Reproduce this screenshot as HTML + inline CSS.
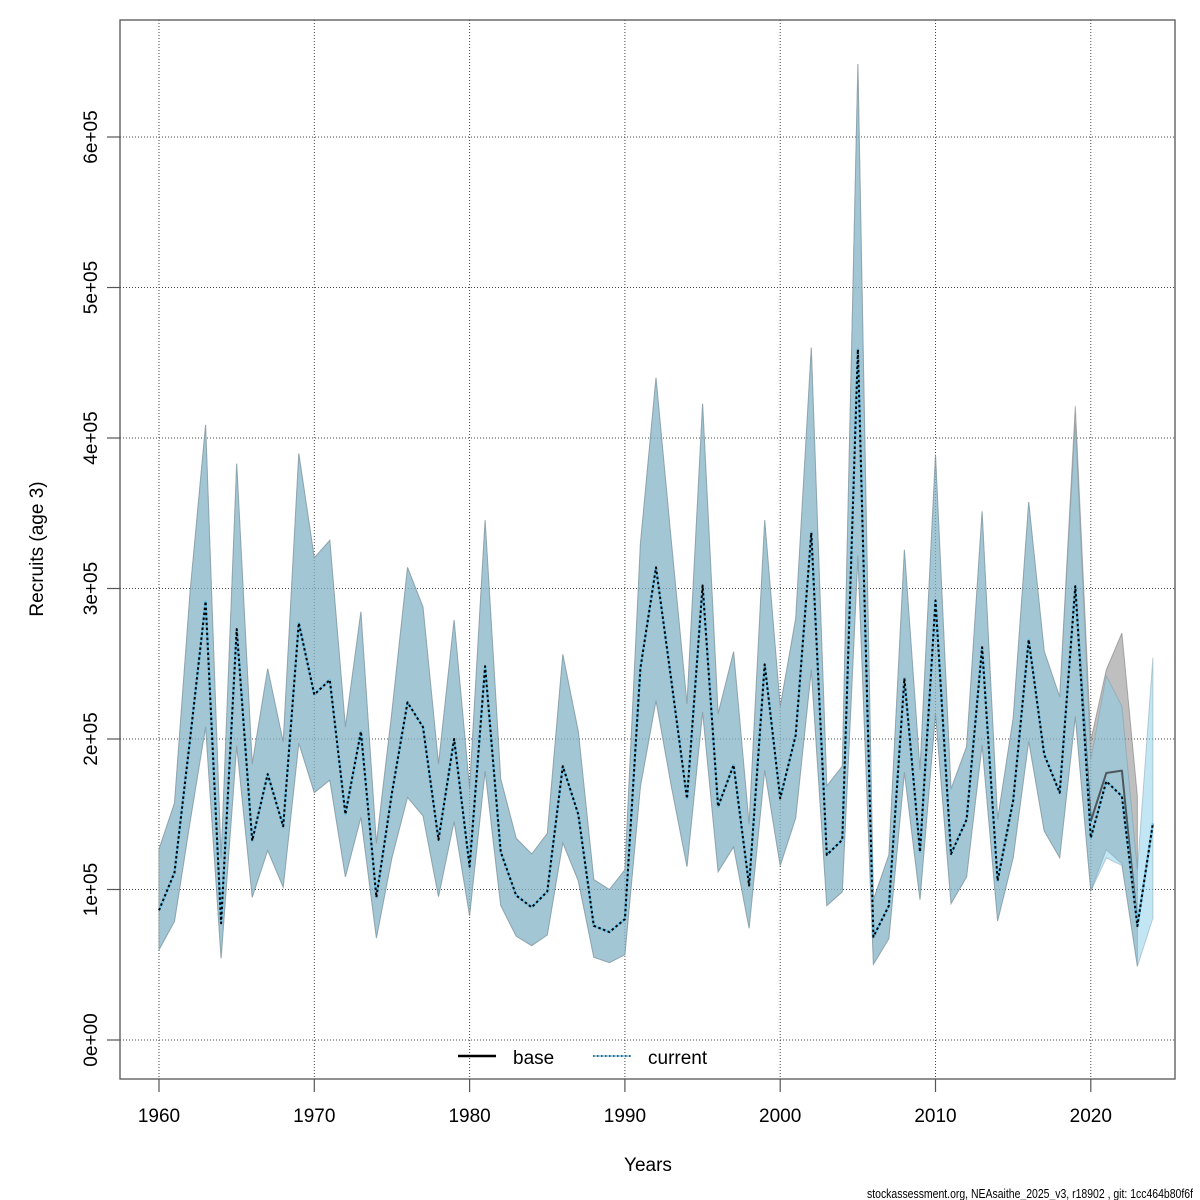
<!DOCTYPE html>
<html>
<head>
<meta charset="utf-8">
<style>
html,body{margin:0;padding:0;background:#fff;}
svg{display:block;}
text{font-family:"Liberation Sans",Arial,sans-serif;fill:#000;}
</style>
</head>
<body>
<svg width="1200" height="1200" viewBox="0 0 1200 1200" xmlns="http://www.w3.org/2000/svg">
<rect x="0" y="0" width="1200" height="1200" fill="#fff"/>
<!-- grid -->
<g stroke="#444" stroke-width="1" stroke-dasharray="1,2" fill="none">
<line x1="159" y1="20" x2="159" y2="1079"/>
<line x1="314.3" y1="20" x2="314.3" y2="1079"/>
<line x1="469.6" y1="20" x2="469.6" y2="1079"/>
<line x1="624.9" y1="20" x2="624.9" y2="1079"/>
<line x1="780.2" y1="20" x2="780.2" y2="1079"/>
<line x1="935.5" y1="20" x2="935.5" y2="1079"/>
<line x1="1090.8" y1="20" x2="1090.8" y2="1079"/>
<line x1="120" y1="1040" x2="1175" y2="1040"/>
<line x1="120" y1="889.5" x2="1175" y2="889.5"/>
<line x1="120" y1="739" x2="1175" y2="739"/>
<line x1="120" y1="588.5" x2="1175" y2="588.5"/>
<line x1="120" y1="438" x2="1175" y2="438"/>
<line x1="120" y1="287.5" x2="1175" y2="287.5"/>
<line x1="120" y1="137" x2="1175" y2="137"/>
</g>
<!-- base band -->
<polygon fill="rgba(127,127,127,0.5)" stroke="rgba(110,110,110,0.5)" stroke-width="1" points="159.0,849.2 174.5,803.0 190.1,591.5 205.6,424.8 221.1,858.5 236.7,463.6 252.2,764.1 267.7,668.7 283.2,742.0 298.8,453.5 314.3,557.8 329.8,540.3 345.4,727.1 360.9,611.8 376.4,843.6 391.9,711.9 407.5,567.4 423.0,607.0 438.5,764.1 454.1,620.1 469.6,788.2 485.1,520.2 500.7,778.9 516.2,838.2 531.7,854.0 547.3,833.4 562.8,654.4 578.3,731.5 593.8,879.6 609.4,889.5 624.9,869.8 640.4,543.8 656.0,377.8 671.5,543.3 687.0,703.8 702.6,403.7 718.1,713.7 733.6,651.7 749.1,824.3 764.7,520.2 780.2,706.6 795.7,618.6 811.3,347.7 826.8,786.0 842.3,766.2 857.9,64.0 873.4,899.7 888.9,854.9 904.4,549.8 920.0,769.9 935.5,454.6 951.0,789.0 966.6,746.8 982.1,511.4 997.6,819.5 1013.2,718.1 1028.7,502.0 1044.2,651.1 1059.7,697.0 1075.3,406.2 1090.8,740.5 1106.3,669.8 1121.9,633.0 1137.4,796.2 1137.4,966.3 1121.9,863.9 1106.3,849.6 1090.8,891.0 1075.3,716.4 1059.7,857.7 1044.2,831.0 1028.7,741.1 1013.2,857.7 997.6,921.0 982.1,744.9 966.6,876.9 951.0,903.6 935.5,713.4 920.0,899.7 904.4,772.3 888.9,938.6 873.4,964.3 857.9,555.7 842.3,891.9 826.8,905.6 811.3,669.8 795.7,817.9 780.2,865.7 764.7,770.2 749.1,928.2 733.6,846.9 718.1,871.7 702.6,711.9 687.0,866.6 671.5,787.2 656.0,700.6 640.4,786.7 624.9,954.7 609.4,962.6 593.8,957.2 578.3,880.8 562.8,842.8 547.3,935.0 531.7,945.6 516.2,936.2 500.7,905.3 485.1,771.1 469.6,915.7 454.1,821.5 438.5,896.6 423.0,815.8 407.5,797.4 391.9,857.9 376.4,938.0 360.9,817.3 345.4,876.9 329.8,780.1 314.3,792.6 298.8,743.1 283.2,887.2 267.7,850.4 252.2,897.3 236.7,745.8 221.1,958.3 205.6,727.0 190.1,821.8 174.5,921.3 159.0,949.7"/>
<!-- current band -->
<polygon fill="rgba(135,206,235,0.5)" stroke="rgba(120,150,165,0.45)" stroke-width="1" points="159.0,849.2 174.5,803.0 190.1,591.5 205.6,424.8 221.1,858.5 236.7,463.6 252.2,764.1 267.7,668.7 283.2,742.0 298.8,453.5 314.3,557.8 329.8,540.3 345.4,727.1 360.9,611.8 376.4,843.6 391.9,711.9 407.5,567.4 423.0,607.0 438.5,764.1 454.1,620.1 469.6,788.2 485.1,520.2 500.7,778.9 516.2,838.2 531.7,854.0 547.3,833.4 562.8,654.4 578.3,731.5 593.8,879.6 609.4,889.5 624.9,869.8 640.4,543.8 656.0,377.8 671.5,543.3 687.0,703.8 702.6,403.7 718.1,713.7 733.6,651.7 749.1,824.3 764.7,520.2 780.2,706.6 795.7,618.6 811.3,347.7 826.8,786.0 842.3,766.2 857.9,64.0 873.4,899.7 888.9,854.9 904.4,549.8 920.0,769.9 935.5,454.6 951.0,789.0 966.6,746.8 982.1,511.4 997.6,819.5 1013.2,718.1 1028.7,502.0 1044.2,651.1 1059.7,697.0 1075.3,422.9 1090.8,759.6 1106.3,675.8 1121.9,706.3 1137.4,869.9 1152.9,657.7 1152.9,918.1 1137.4,966.3 1121.9,865.4 1106.3,857.9 1090.8,891.0 1075.3,716.4 1059.7,857.7 1044.2,831.0 1028.7,741.1 1013.2,857.7 997.6,921.0 982.1,744.9 966.6,876.9 951.0,903.6 935.5,713.4 920.0,899.7 904.4,772.3 888.9,938.6 873.4,964.3 857.9,555.7 842.3,891.9 826.8,905.6 811.3,669.8 795.7,817.9 780.2,865.7 764.7,770.2 749.1,928.2 733.6,846.9 718.1,871.7 702.6,711.9 687.0,866.6 671.5,787.2 656.0,700.6 640.4,786.7 624.9,954.7 609.4,962.6 593.8,957.2 578.3,880.8 562.8,842.8 547.3,935.0 531.7,945.6 516.2,936.2 500.7,905.3 485.1,771.1 469.6,915.7 454.1,821.5 438.5,896.6 423.0,815.8 407.5,797.4 391.9,857.9 376.4,938.0 360.9,817.3 345.4,876.9 329.8,780.1 314.3,792.6 298.8,743.1 283.2,887.2 267.7,850.4 252.2,897.3 236.7,745.8 221.1,958.3 205.6,727.0 190.1,821.8 174.5,921.3 159.0,949.7"/>
<!-- base median -->
<polyline fill="none" stroke="rgba(40,40,40,0.7)" stroke-width="2" stroke-linejoin="round" points="159.0,910.3 174.5,872.5 190.1,739.0 205.6,601.4 221.1,923.2 236.7,629.1 252.2,840.7 267.7,774.1 283.2,826.3 298.8,623.0 314.3,694.6 329.8,679.9 345.4,814.2 360.9,731.5 376.4,897.3 391.9,793.2 407.5,702.4 423.0,727.1 438.5,839.8 454.1,739.0 469.6,866.6 485.1,666.3 500.7,851.9 516.2,895.5 531.7,907.3 547.3,891.5 562.8,766.2 578.3,814.4 593.8,925.8 609.4,932.1 624.9,919.1 640.4,668.3 656.0,567.4 671.5,681.8 687.0,798.6 702.6,585.5 718.1,806.6 733.6,765.0 749.1,885.6 764.7,664.4 780.2,798.4 795.7,735.2 811.3,532.8 826.8,854.9 842.3,839.8 857.9,349.4 873.4,936.8 888.9,905.6 904.4,678.3 920.0,851.9 935.5,600.5 951.0,854.0 966.6,819.5 982.1,647.3 997.6,880.8 1013.2,800.4 1028.7,639.7 1044.2,754.5 1059.7,792.7 1075.3,586.2 1090.8,821.2 1106.3,773.0 1121.9,770.6 1137.4,924.1"/>
<!-- current median: skyblue under black dots -->
<polyline fill="none" stroke="#6EC3E8" stroke-width="2.4" stroke-linejoin="round" points="159.0,910.3 174.5,872.5 190.1,739.0 205.6,601.4 221.1,923.2 236.7,629.1 252.2,840.7 267.7,774.1 283.2,826.3 298.8,623.0 314.3,694.6 329.8,679.9 345.4,814.2 360.9,731.5 376.4,897.3 391.9,793.2 407.5,702.4 423.0,727.1 438.5,839.8 454.1,739.0 469.6,866.6 485.1,666.3 500.7,851.9 516.2,895.5 531.7,907.3 547.3,891.5 562.8,766.2 578.3,814.4 593.8,925.8 609.4,932.1 624.9,919.1 640.4,668.3 656.0,567.4 671.5,681.8 687.0,798.6 702.6,585.5 718.1,806.6 733.6,765.0 749.1,885.6 764.7,664.4 780.2,798.4 795.7,735.2 811.3,532.8 826.8,854.9 842.3,839.8 857.9,349.4 873.4,936.8 888.9,905.6 904.4,678.3 920.0,851.9 935.5,600.5 951.0,854.0 966.6,819.5 982.1,647.3 997.6,880.8 1013.2,800.4 1028.7,639.7 1044.2,754.5 1059.7,792.7 1075.3,586.2 1090.8,837.9 1106.3,781.3 1121.9,796.2 1137.4,926.1 1152.9,823.3"/>
<polyline fill="none" stroke="#000" stroke-width="2" stroke-dasharray="2.5,2.5" stroke-linejoin="round" points="159.0,910.3 174.5,872.5 190.1,739.0 205.6,601.4 221.1,923.2 236.7,629.1 252.2,840.7 267.7,774.1 283.2,826.3 298.8,623.0 314.3,694.6 329.8,679.9 345.4,814.2 360.9,731.5 376.4,897.3 391.9,793.2 407.5,702.4 423.0,727.1 438.5,839.8 454.1,739.0 469.6,866.6 485.1,666.3 500.7,851.9 516.2,895.5 531.7,907.3 547.3,891.5 562.8,766.2 578.3,814.4 593.8,925.8 609.4,932.1 624.9,919.1 640.4,668.3 656.0,567.4 671.5,681.8 687.0,798.6 702.6,585.5 718.1,806.6 733.6,765.0 749.1,885.6 764.7,664.4 780.2,798.4 795.7,735.2 811.3,532.8 826.8,854.9 842.3,839.8 857.9,349.4 873.4,936.8 888.9,905.6 904.4,678.3 920.0,851.9 935.5,600.5 951.0,854.0 966.6,819.5 982.1,647.3 997.6,880.8 1013.2,800.4 1028.7,639.7 1044.2,754.5 1059.7,792.7 1075.3,586.2 1090.8,837.9 1106.3,781.3 1121.9,796.2 1137.4,926.1 1152.9,823.3"/>
<!-- plot box -->
<rect x="120" y="20" width="1055" height="1059" fill="none" stroke="#555" stroke-width="1.3"/>
<!-- ticks -->
<g stroke="#555" stroke-width="1.2">
<line x1="159" y1="1079" x2="159" y2="1092"/>
<line x1="314.3" y1="1079" x2="314.3" y2="1092"/>
<line x1="469.6" y1="1079" x2="469.6" y2="1092"/>
<line x1="624.9" y1="1079" x2="624.9" y2="1092"/>
<line x1="780.2" y1="1079" x2="780.2" y2="1092"/>
<line x1="935.5" y1="1079" x2="935.5" y2="1092"/>
<line x1="1090.8" y1="1079" x2="1090.8" y2="1092"/>
<line x1="107" y1="1040" x2="120" y2="1040"/>
<line x1="107" y1="889.5" x2="120" y2="889.5"/>
<line x1="107" y1="739" x2="120" y2="739"/>
<line x1="107" y1="588.5" x2="120" y2="588.5"/>
<line x1="107" y1="438" x2="120" y2="438"/>
<line x1="107" y1="287.5" x2="120" y2="287.5"/>
<line x1="107" y1="137" x2="120" y2="137"/>
</g>
<!-- x tick labels -->
<g font-size="19" text-anchor="middle">
<text x="159" y="1122">1960</text>
<text x="314.3" y="1122">1970</text>
<text x="469.6" y="1122">1980</text>
<text x="624.9" y="1122">1990</text>
<text x="780.2" y="1122">2000</text>
<text x="935.5" y="1122">2010</text>
<text x="1090.8" y="1122">2020</text>
</g>
<!-- y tick labels -->
<g font-size="19" text-anchor="middle">
<text x="97" y="1040" transform="rotate(-90 97 1040)">0e+00</text>
<text x="97" y="889.5" transform="rotate(-90 97 889.5)">1e+05</text>
<text x="97" y="739" transform="rotate(-90 97 739)">2e+05</text>
<text x="97" y="588.5" transform="rotate(-90 97 588.5)">3e+05</text>
<text x="97" y="438" transform="rotate(-90 97 438)">4e+05</text>
<text x="97" y="287.5" transform="rotate(-90 97 287.5)">5e+05</text>
<text x="97" y="137" transform="rotate(-90 97 137)">6e+05</text>
</g>
<!-- axis titles -->
<text x="648" y="1171" font-size="19" text-anchor="middle">Years</text>
<text x="43" y="549" font-size="19" text-anchor="middle" transform="rotate(-90 43 549)">Recruits (age 3)</text>
<!-- legend -->
<line x1="458" y1="1056" x2="496" y2="1056" stroke="#000" stroke-width="2.5"/>
<text x="513" y="1064" font-size="19">base</text>
<line x1="593" y1="1056" x2="631" y2="1056" stroke="#6EC3E8" stroke-width="1.5"/>
<line x1="593" y1="1056" x2="631" y2="1056" stroke="#333" stroke-width="1.5" stroke-dasharray="1.5,2.5"/>
<text x="648" y="1064" font-size="19">current</text>
<!-- footnote -->
<text x="867" y="1198" font-size="12.5" textLength="326" lengthAdjust="spacingAndGlyphs">stockassessment.org, NEAsaithe_2025_v3, r18902 , git: 1cc464b80f6f</text>
</svg>
</body>
</html>
